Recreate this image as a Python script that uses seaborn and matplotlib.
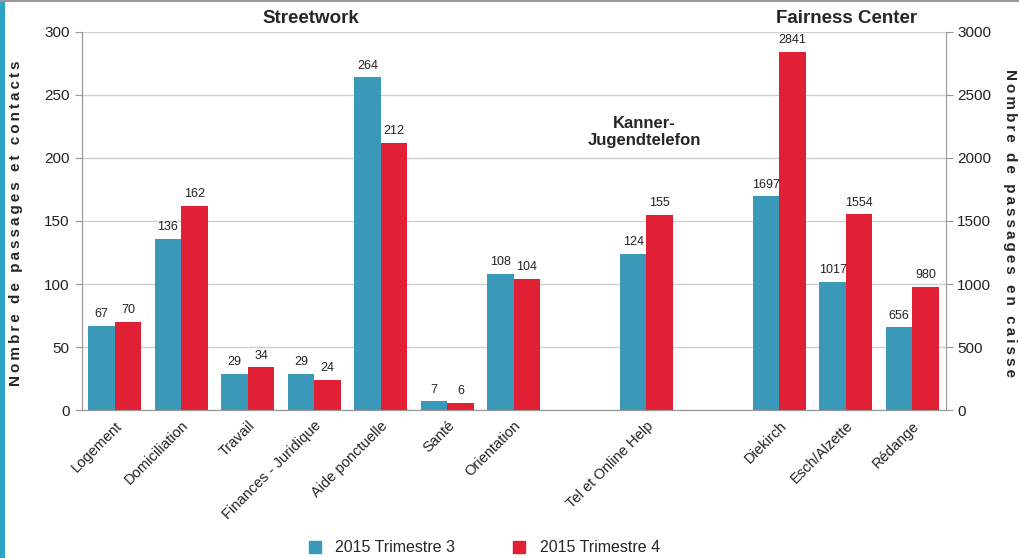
import pandas as pd
import seaborn as sns
import matplotlib.pyplot as plt
from matplotlib.lines import Line2D
from matplotlib.patches import Rectangle

# donnees
categories = ['Logement', 'Domiciliation', 'Travail', 'Finances - Juridique',
              'Aide ponctuelle', 'Santé', 'Orientation', ' ',
              'Tel et Online Help', '  ', 'Diekirch', 'Esch/Alzette', 'Rédange']
gauche_cats = ['Logement', 'Domiciliation', 'Travail', 'Finances - Juridique',
               'Aide ponctuelle', 'Santé', 'Orientation', 'Tel et Online Help']
gauche_t3 = [67, 136, 29, 29, 264, 7, 108, 124]
gauche_t4 = [70, 162, 34, 24, 212, 6, 104, 155]
droite_cats = ['Diekirch', 'Esch/Alzette', 'Rédange']
droite_t3 = [1697, 1017, 656]
droite_t4 = [2841, 1554, 980]
series = ['2015 Trimestre 3', '2015 Trimestre 4']
couleurs = {'2015 Trimestre 3': '#3A98B9', '2015 Trimestre 4': '#E11F35'}

df_g = pd.DataFrame({
    'cat': gauche_cats * 2,
    'serie': [series[0]] * len(gauche_cats) + [series[1]] * len(gauche_cats),
    'val': gauche_t3 + gauche_t4,
})
df_d = pd.DataFrame({
    'cat': droite_cats * 2,
    'serie': [series[0]] * len(droite_cats) + [series[1]] * len(droite_cats),
    'val': droite_t3 + droite_t4,
})

sns.set_style('white')
plt.rcParams['font.family'] = ['Liberation Sans', 'DejaVu Sans']

fig = plt.figure(figsize=(10.2, 5.58), dpi=100)
ax = fig.add_axes([0.080, 0.265, 0.847, 0.678])
ax2 = ax.twinx()

sns.barplot(data=df_g, x='cat', y='val', hue='serie', order=categories,
            hue_order=series, palette=couleurs, width=0.8, ax=ax, saturation=1,
            errorbar=None, legend=False, zorder=3, linewidth=0)
sns.barplot(data=df_d, x='cat', y='val', hue='serie', order=categories,
            hue_order=series, palette=couleurs, width=0.8, ax=ax2, saturation=1,
            errorbar=None, legend=False, zorder=3, linewidth=0)

for a in (ax, ax2):
    for c in a.containers:
        a.bar_label(c, fontsize=9, padding=4, color='#222222')

ax.set_ylim(0, 300)
ax2.set_ylim(0, 3000)
ax.set_xlim(-0.5, len(categories) - 0.5)
ax.set_yticks(range(0, 301, 50))
ax2.set_yticks(range(0, 3001, 500))
ax.yaxis.grid(True, color='#d0d0d0', lw=1, zorder=0)
ax.set_axisbelow(True)

ax.set_xlabel('')
ax.set_ylabel('')
ax2.set_ylabel('')
ax.set_xticks(range(len(categories)))
ax.set_xticklabels(categories, rotation=45, ha='right', rotation_mode='anchor',
                   fontsize=10.5, color='#222222')
ax.set_xticks([i - 0.5 for i in range(len(categories) + 1)], minor=True)
ax.tick_params(axis='x', which='major', length=0, pad=6)
ax.tick_params(axis='x', which='minor', length=5, color='#999999', direction='out')
ax.tick_params(axis='y', length=5, color='#999999', labelsize=11, labelcolor='#222222')
ax2.tick_params(axis='y', length=5, color='#999999', labelsize=11, labelcolor='#222222')

for a in (ax, ax2):
    a.spines['top'].set_visible(False)
    for s in ('left', 'right', 'bottom'):
        a.spines[s].set_color('#999999')
ax.spines['right'].set_visible(False)

def espace(t):
    return '\u2009'.join(t)

# titres de sections
fig.text(0.305, 0.967, 'Streetwork', fontsize=13.5, fontweight='bold', ha='center', va='center')
fig.text(0.830, 0.967, 'Fairness Center', fontsize=13.5, fontweight='bold', ha='center', va='center')
fig.text(0.632, 0.763, 'Kanner-\nJugendtelefon', fontsize=12, fontweight='bold',
         ha='center', va='center', linespacing=1.2)

fig.text(0.016, 0.6, espace('Nombre de passages et contacts'), rotation=90,
         fontsize=11, fontweight='bold', ha='center', va='center')
fig.text(0.990, 0.6, espace('Nombre de passages en caisse'), rotation=270,
         fontsize=11, fontweight='bold', ha='center', va='center')

handles = [Line2D([0], [0], marker='s', color='none', markerfacecolor=couleurs[s],
                  markeredgecolor=couleurs[s], markersize=8) for s in series]
fig.legend(handles, series, loc='center', bbox_to_anchor=(0.47, 0.018), ncol=2,
           frameon=False, fontsize=11.5, handletextpad=0.3, columnspacing=3)

# cadre
fig.add_artist(Rectangle((0, 0), 0.005, 1, transform=fig.transFigure,
                         color='#2FA3C6', lw=0))
fig.add_artist(Line2D([0, 1], [0.998, 0.998], transform=fig.transFigure,
                      color='#999999', lw=1.5))

plt.savefig('out.png', dpi=100)
plt.close()
